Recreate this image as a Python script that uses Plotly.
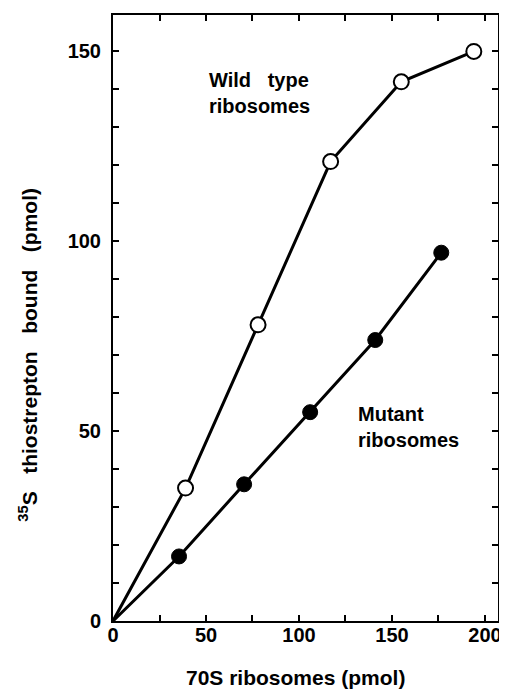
import plotly.graph_objects as go

# Data
wt_x = [0, 39, 78, 117, 155, 194]
wt_y = [0, 35, 78, 121, 142, 150]
mut_x = [0, 35.5, 70.5, 106, 141, 176.5]
mut_y = [0, 17, 36, 55, 74, 97]

x_tickvals = [0, 50, 100, 150, 200]
x_ticktext = ["0", "50", "100", "150", "200"]
y_tickvals = [0, 50, 100, 150]
y_ticktext = ["0", "50", "100", "150"]
x_range = [0, 207]
y_range = [0, 159.6]

FONT = "Liberation Sans, Arial, Helvetica, sans-serif"
SP = "\u00a0"

fig = go.Figure()
fig.add_trace(go.Scatter(x=wt_x, y=wt_y, mode="lines",
                         line=dict(color="black", width=3), showlegend=False))
fig.add_trace(go.Scatter(x=mut_x, y=mut_y, mode="lines",
                         line=dict(color="black", width=3), showlegend=False))
fig.add_trace(go.Scatter(x=wt_x[1:], y=wt_y[1:], mode="markers",
                         marker=dict(size=15, color="white",
                                     line=dict(color="black", width=2)),
                         showlegend=False))
fig.add_trace(go.Scatter(x=mut_x[1:], y=mut_y[1:], mode="markers",
                         marker=dict(size=15, color="black",
                                     line=dict(color="black", width=1)),
                         showlegend=False))
# invisible copy on the top axis so that axis (and its ticks) gets drawn
fig.add_trace(go.Scatter(x=wt_x, y=wt_y, xaxis="x2", yaxis="y", mode="markers",
                         marker=dict(size=1, opacity=0), showlegend=False,
                         hoverinfo="skip"))

fig.add_annotation(x=50.3, y=139, xref="x", yref="y",
                   text="Wild" + SP * 2 + " type<br>ribosomes",
                   showarrow=False, xanchor="left", yanchor="middle", align="left",
                   font=dict(family=FONT, size=20, color="black", weight="bold"))
fig.add_annotation(x=130.5, y=51, xref="x", yref="y",
                   text="Mutant<br>ribosomes",
                   showarrow=False, xanchor="left", yanchor="middle", align="left",
                   font=dict(family=FONT, size=20, color="black", weight="bold"))

fig.add_annotation(x=97.9, y=-0.094, xref="x", yref="paper",
                   text="70S ribosomes (pmol)",
                   showarrow=False, xanchor="center", yanchor="middle",
                   font=dict(family=FONT, size=21, color="black", weight="bold"))
fig.add_annotation(x=-0.22, y=0.44, xref="paper", yref="paper",
                   text="<sup>35</sup>S" + SP * 2 + " thiostrepton" + SP * 2 + " bound" + SP * 2 + " (pmol)",
                   textangle=-90,
                   showarrow=False, xanchor="center", yanchor="middle",
                   font=dict(family=FONT, size=21, color="black", weight="bold"))

axis_common = dict(showgrid=False, zeroline=False, showline=True,
                   linecolor="black", linewidth=2, mirror="ticks",
                   ticks="inside", ticklen=6, tickwidth=2, tickcolor="black",
                   tickfont=dict(family=FONT, size=20, color="black", weight="bold"),
                   tickmode="array")

fig.update_xaxes(range=x_range, tickvals=x_tickvals, ticktext=x_ticktext,
                 ticklabelstandoff=-5,
                 minor=dict(dtick=25, tick0=0, ticks="inside", ticklen=6,
                            tickwidth=2, tickcolor="black", showgrid=False),
                 **axis_common)
fig.update_yaxes(range=y_range, tickvals=y_tickvals, ticktext=y_ticktext,
                 ticklabelstandoff=6,
                 minor=dict(dtick=10, tick0=0, ticks="inside", ticklen=6,
                            tickwidth=2, tickcolor="black", showgrid=False),
                 **axis_common)

# top axis carrying the inward ticks every 25 units
fig.update_layout(xaxis2=dict(overlaying="x", side="top", range=x_range,
                              tickmode="linear", tick0=0, dtick=25,
                              ticks="inside", ticklen=6, tickwidth=2,
                              tickcolor="black", showticklabels=False,
                              showgrid=False, zeroline=False, showline=True,
                              linecolor="black", linewidth=2))

fig.update_layout(width=499, height=681,
                  margin=dict(l=105, r=7, t=5, b=68),
                  paper_bgcolor="white", plot_bgcolor="white")

fig.write_html("out.html")
